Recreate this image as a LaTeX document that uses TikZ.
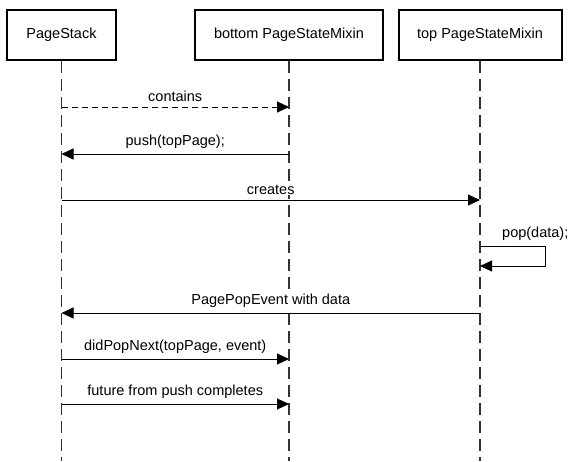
\documentclass[tikz,border=0pt]{standalone}
\usepackage{fontspec}
\setmainfont{Liberation Sans}
\usetikzlibrary{arrows.meta}
\begin{document}
\begin{tikzpicture}[x=1pt,y=1pt,
  actor/.style={draw,line width=2pt,minimum height=50pt,inner sep=0pt,font=\fontsize{14.5}{17}\selectfont},
  life/.style={line width=1.2pt,draw=black!80,dash pattern=on 12pt off 6pt},
  msg/.style={line width=1pt,-{Triangle[length=12pt,width=11pt]}},
  dmsg/.style={msg,dash pattern=on 6pt off 4pt},
  lbl/.style={font=\fontsize{14.5}{17}\selectfont,inner sep=0pt,anchor=south,fill=white},
]
\useasboundingbox (0,0) rectangle (576,-461);
\node[actor,minimum width=109pt] (ps) at (61.5,-35) {PageStack};
\node[actor,minimum width=188pt] (bm) at (289,-35) {bottom PageStateMixin};
\node[actor,minimum width=163pt] (tm) at (480,-35) {top PageStateMixin};
\coordinate (psend) at (ps |- 0,-461);
\coordinate (bmend) at (bm |- 0,-461);
\coordinate (tmend) at (tm |- 0,-461);
\draw[life] (ps.south) -- (psend);
\draw[life] (bm.south) -- (bmend);
\draw[life] (tm.south) -- (tmend);
% messages
\draw[dmsg] (ps |- 0,-107) -- node[lbl,above=5pt]{contains} (bm |- 0,-107);
\draw[msg] (bm |- 0,-154) -- node[lbl,above=5pt]{push(topPage);} (ps |- 0,-154);
\draw[msg] (ps |- 0,-200) -- node[lbl,above=5pt]{creates} (tm |- 0,-200);
\coordinate (s1) at (545,-246);
\coordinate (s2) at (545,-266);
\draw[msg] (tm |- 0,-246) -- (s1) -- (s2) -- (tm |- 0,-266);
\node[lbl,anchor=south west] (poplbl) at (502,-241) {pop(data);};
\draw[msg] (tm |- 0,-313) -- node[lbl,above=5pt]{PagePopEvent with data} (ps |- 0,-313);
\draw[msg] (ps |- 0,-359) -- node[lbl,above=5pt]{didPopNext(topPage, event)} (bm |- 0,-359);
\draw[msg] (ps |- 0,-404) -- node[lbl,above=5pt]{future from push completes} (bm |- 0,-404);
\end{tikzpicture}
\end{document}
